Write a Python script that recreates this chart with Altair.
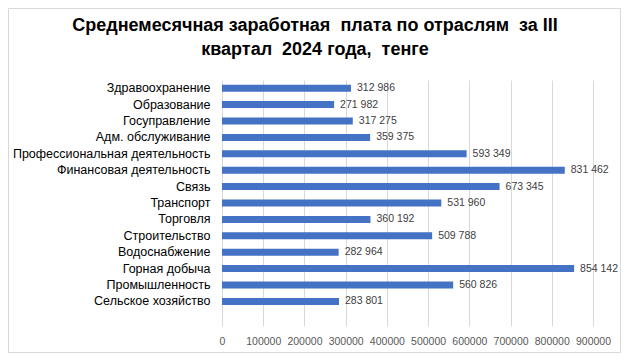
import altair as alt
import pandas as pd

categories = [
    "Здравоохранение",
    "Образование",
    "Госуправление",
    "Адм. обслуживание",
    "Профессиональная деятельность",
    "Финансовая деятельность",
    "Связь",
    "Транспорт",
    "Торговля",
    "Строительство",
    "Водоснабжение",
    "Горная добыча",
    "Промышленность",
    "Сельское хозяйство",
]
values = [312986, 271982, 317275, 359375, 593349, 831462, 673345,
          531960, 360192, 509788, 282964, 854142, 560826, 283801]
x_ticks = [0, 100000, 200000, 300000, 400000, 500000, 600000, 700000, 800000, 900000]
title_lines = ["Среднемесячная заработная\u00a0 плата по отраслям\u00a0 за III",
               "квартал\u00a0 2024 года,\u00a0 тенге"]

labels = [f"{v:,}".replace(",", " ") for v in values]
df = pd.DataFrame({"cat": categories, "val": values, "lab": labels})
y_domain = categories + [" "]

FONT = "Liberation Sans"

base = alt.Chart(df)

bars = base.mark_bar(color="#4472C4", size=7).encode(
    y=alt.Y("cat:N", scale=alt.Scale(domain=y_domain, paddingInner=0, paddingOuter=0),
            axis=alt.Axis(title=None, domain=False, ticks=False, labelPadding=12,
                          labelFont=FONT, labelFontSize=12.5, labelColor="#000000",
                          labelLimit=400)),
    x=alt.X("val:Q", scale=alt.Scale(domain=[0, 900000], nice=False),
            axis=alt.Axis(title=None, values=x_ticks, format="d", domain=False,
                          ticks=False, grid=True, gridColor="#d9d9d9",
                          labelColor="#595959", labelFont=FONT, labelFontSize=10.5,
                          labelPadding=10, labelFlush=False)),
)

text = base.mark_text(align="left", baseline="middle", dx=6, color="#404040",
                      font=FONT, fontSize=10.5).encode(
    y=alt.Y("cat:N"), x=alt.X("val:Q"), text="lab:N")

one = pd.DataFrame({"k": [0]})

border = alt.Chart(one).mark_rect(fill=None, stroke="#d9d9d9", strokeWidth=1).encode(
    x=alt.value(-213.5), x2=alt.value(398.5), y=alt.value(-71.5), y2=alt.value(272.5))

t1 = alt.Chart(one).mark_text(font=FONT, fontSize=18, fontWeight="bold", color="#000000",
                              align="center", baseline="middle").encode(
    x=alt.value(93), y=alt.value(-54), text=alt.value(title_lines[0]))
t2 = alt.Chart(one).mark_text(font=FONT, fontSize=18, fontWeight="bold", color="#000000",
                              align="center", baseline="middle").encode(
    x=alt.value(93), y=alt.value(-30), text=alt.value(title_lines[1]))

chart = alt.layer(border, bars, text, t1, t2).properties(
    width=371, height=246,
    padding={"left": 214, "top": 72, "right": 28, "bottom": 27},
    autosize=alt.AutoSizeParams(type="none"),
).configure_view(stroke=None)

chart.save("out.html", embed_options={"renderer": "svg", "actions": False})
